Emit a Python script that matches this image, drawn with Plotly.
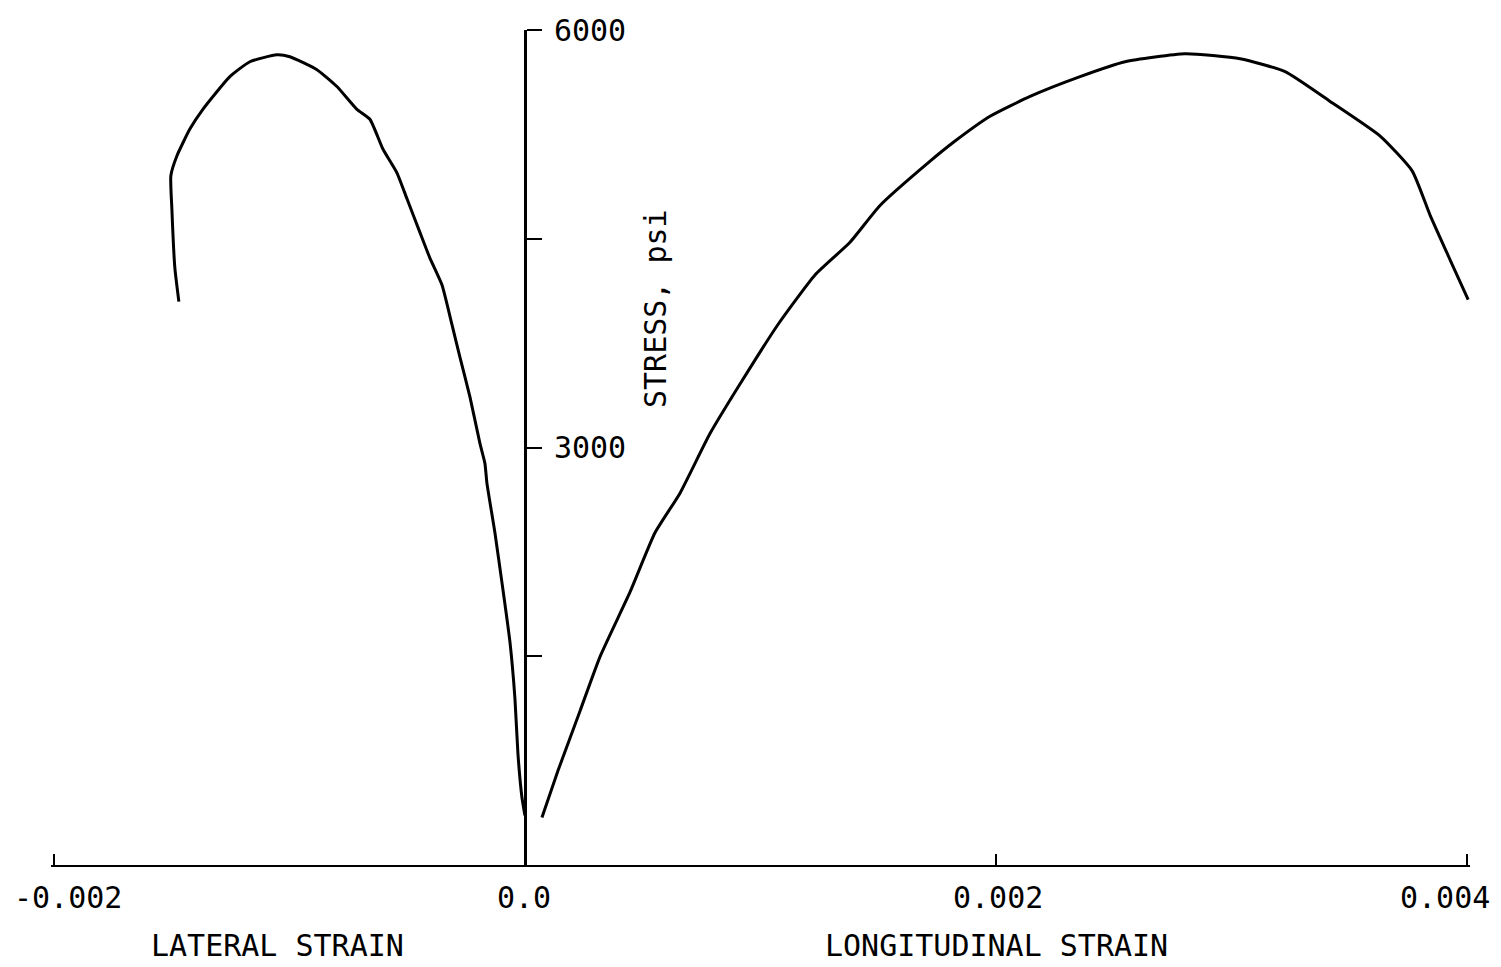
import plotly.graph_objects as go

# Lateral strain curve (negative strain) vs stress (psi)
lat_strain = [0.0, -0.0000127, -0.0000297, -0.0000425, -0.0000637, -0.0000977, -0.0001274,
              -0.0001614, -0.0001699, -0.0001911, -0.0002335, -0.0002760, -0.0003100,
              -0.0003524, -0.0004034, -0.0004459, -0.0005011, -0.0005435, -0.0006030,
              -0.0006582, -0.0007134, -0.0007983, -0.0008832, -0.0009979, -0.0010531,
              -0.0011677, -0.0012527, -0.0013673, -0.0014225, -0.0014777, -0.0015032,
              -0.0014989, -0.0014862, -0.0014692]
lat_stress = [356, 485, 798, 1197, 1603, 2031, 2387, 2744, 2886, 3029, 3364, 3649, 3884,
              4169, 4361, 4546, 4789, 4974, 5145, 5359, 5430, 5594, 5715, 5808, 5822,
              5772, 5665, 5430, 5288, 5095, 4953, 4717, 4290, 4048]

# Longitudinal strain curve vs stress (psi)
lon_strain = [0.0000722, 0.0001401, 0.0002335, 0.0003185, 0.0004459, 0.0005520, 0.0006582,
              0.0007856, 0.0009130, 0.0010743, 0.0012314, 0.0013800, 0.0015074, 0.0017113,
              0.0018259, 0.0019745, 0.0021444, 0.0023567, 0.0025478, 0.0028025, 0.0030361,
              0.0032272, 0.0034183, 0.0036306, 0.0037665, 0.0038429, 0.0039278, 0.0040042]
lon_stress = [342, 677, 1105, 1496, 1960, 2387, 2672, 3100, 3456, 3884, 4240, 4475, 4739,
              5045, 5202, 5380, 5523, 5665, 5772, 5829, 5794, 5701, 5487, 5238, 4988,
              4668, 4347, 4062]

x_tickvals = [-0.002, 0.0, 0.002, 0.004]
x_ticktext = ["-0.002", "0.0", "0.002", "0.004"]
x_label_shift = [14, -1, 2, -22]

y_tickvals = [1500, 3000, 4500, 6000]
y_ticktext = ["", "3000", "", "6000"]

FONT = "DejaVu Sans Mono"
FS = 30
PAD = 0.000012  # ~2.8 px so the end ticks are not dropped

fig = go.Figure()
fig.add_trace(go.Scatter(x=lat_strain, y=lat_stress, mode="lines",
                         line=dict(color="black", width=3, shape="spline", smoothing=0.5),
                         showlegend=False))
fig.add_trace(go.Scatter(x=lon_strain, y=lon_stress, mode="lines",
                         line=dict(color="black", width=3, shape="spline", smoothing=0.5),
                         showlegend=False))

annotations = []
for v, t, s in zip(x_tickvals, x_ticktext, x_label_shift):
    annotations.append(dict(x=v, y=0, xref="x", yref="paper", text=t, showarrow=False,
                            xshift=s, yshift=-32, yanchor="middle", xanchor="center",
                            font=dict(family=FONT, size=FS, color="black")))
annotations.append(dict(x=-0.00105, y=0, xref="x", yref="paper", text="LATERAL STRAIN",
                        showarrow=False, yshift=-80, yanchor="middle",
                        font=dict(family=FONT, size=FS, color="black")))
annotations.append(dict(x=0.002, y=0, xref="x", yref="paper", text="LONGITUDINAL STRAIN",
                        showarrow=False, yshift=-80, yanchor="middle",
                        font=dict(family=FONT, size=FS, color="black")))
annotations.append(dict(x=0.000555, y=4000, xref="x", yref="y", text="STRESS, psi",
                        showarrow=False, textangle=-90, xanchor="center", yanchor="middle",
                        font=dict(family=FONT, size=FS, color="black")))

x0, x1 = -0.002 - PAD, 0.004 + PAD

fig.update_layout(
    width=1501, height=967,
    margin=dict(l=51, r=31, t=23, b=102),
    paper_bgcolor="white", plot_bgcolor="white",
    xaxis=dict(range=[x0, x1], showgrid=False, zeroline=False,
               showline=True, linecolor="black", linewidth=2,
               tickvals=[-0.002, 0.002, 0.004], ticks="inside", ticklen=11,
               tickwidth=2, tickcolor="black", showticklabels=False),
    yaxis=dict(range=[0, 6000], showgrid=False, zeroline=False,
               showline=True, linecolor="black", linewidth=3,
               anchor="free", position=(0 - x0) / (x1 - x0), side="right",
               tickvals=y_tickvals, ticktext=y_ticktext, ticks="outside",
               ticklen=15, tickwidth=2, tickcolor="black", ticklabelstandoff=6,
               tickfont=dict(family=FONT, size=FS, color="black")),
    annotations=annotations,
)

fig.write_html("out.html")
